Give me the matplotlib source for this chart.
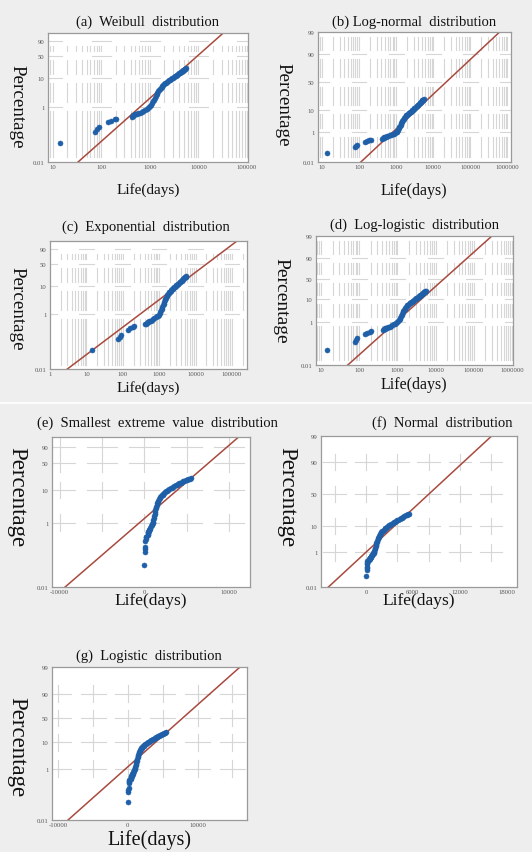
import math
import numpy as np
import matplotlib
matplotlib.use("Agg")
import matplotlib.pyplot as plt
from matplotlib.ticker import FixedLocator, FixedFormatter, NullLocator

plt.rcParams['font.family'] = ['Liberation Serif', 'DejaVu Serif']

# ---------------- data ----------------
life_days = [14, 76, 82, 88, 140, 160, 190, 205, 420, 440, 460, 480, 500, 540, 580,
             620, 680, 740, 800, 860, 920, 980, 1030, 1080, 1130, 1180, 1230, 1280,
             1330, 1380, 1430, 1480, 1540, 1600, 1670, 1740, 1820, 1900, 1980, 2070,
             2160, 2260, 2370, 2480, 2600, 2720, 2850, 2980, 3120, 3260, 3400, 3550,
             3700, 3850, 4000, 4150, 4300, 4450, 4600, 4750, 4900, 5050, 5200, 5350, 5500]
failure_pct = [0.05, 0.12, 0.15, 0.18, 0.27, 0.30, 0.35, 0.37, 0.42, 0.45, 0.48, 0.50,
               0.52, 0.55, 0.58, 0.61, 0.65, 0.70, 0.76, 0.82, 0.88, 0.96, 1.05, 1.18,
               1.35, 1.55, 1.8, 2.1, 2.4, 2.8, 3.1, 3.5, 3.9, 4.3, 4.7, 5.2, 5.6, 6.0,
               6.4, 6.8, 7.2, 7.6, 8.0, 8.5, 9.0, 9.5, 10.0, 10.5, 11.0, 11.6, 12.2,
               12.8, 13.4, 14.0, 14.7, 15.3, 16.0, 16.7, 17.4, 18.2, 19.0, 19.6, 20.2,
               20.8, 21.4]

# fitted-distribution parameters
weibull_shape, weibull_scale = 1.56, 12200.0
lognormal_mu10, lognormal_sigma10 = 4.35, 0.619
exponential_mean = 30000.0
loglogistic_mu10, loglogistic_s10 = 4.215, 0.273
sev_loc, sev_scale = 8240.0, 1910.0
normal_mu, normal_sigma = 8030.0, 3450.0
logistic_loc, logistic_scale = 7880.0, 1789.0

titles = ["(a)  Weibull  distribution", "(b) Log-normal  distribution",
          "(c)  Exponential  distribution", "(d)  Log-logistic  distribution",
          "(e)  Smallest  extreme  value  distribution", "(f)  Normal  distribution",
          "(g)  Logistic  distribution"]

pct_ticks_5 = [90, 50, 10, 1, 0.01]
pct_ticks_6 = [99, 90, 50, 10, 1, 0.01]
pct_labels_5 = ["90", "50", "10", "1", "0.01"]
pct_labels_6 = ["99", "90", "50", "10", "1", "0.01"]

x_ticks_a = [10, 100, 1000, 10000, 100000]
x_ticks_b = [10, 100, 1000, 10000, 100000, 1000000]
x_ticks_c = [1, 10, 100, 1000, 10000, 100000]
x_ticks_d = [10, 100, 1000, 10000, 100000, 1000000]
x_ticks_e = [-10000, 0, 10000]
x_ticks_f = [0, 6000, 12000, 18000]
x_ticks_g = [-10000, 0, 10000]

# ---------------- probability transforms ----------------
def _q(p):
    return np.clip(np.asarray(p, dtype=float) / 100.0, 1e-12, 1 - 1e-12)

def sev_fwd(p):
    q = _q(p)
    return np.log(-np.log1p(-q))

def sev_inv(w):
    return 100.0 * (-np.expm1(-np.exp(np.clip(w, -50, 5))))

def logit_fwd(p):
    q = _q(p)
    return np.log(q / (1 - q))

def logit_inv(l):
    return 100.0 / (1.0 + np.exp(-np.clip(l, -50, 50)))

_A = [-3.969683028665376e+01, 2.209460984245205e+02, -2.759285104469687e+02,
      1.383577518672690e+02, -3.066479806614716e+01, 2.506628277459239e+00]
_B = [-5.447609879822406e+01, 1.615858368580409e+02, -1.556989798598866e+02,
      6.680131188771972e+01, -1.328068155288572e+01]
_C = [-7.784894002430293e-03, -3.223964580411365e-01, -2.400758277161838e+00,
      -2.549732539343734e+00, 4.374664141464968e+00, 2.938163982698783e+00]
_D = [7.784695709041462e-03, 3.224671290700398e-01, 2.445134137142996e+00,
      3.754408145901237e+00]

def _ppf_scalar(p):
    plow = 0.02425
    if p < plow:
        q = math.sqrt(-2 * math.log(p))
        return (((((_C[0]*q+_C[1])*q+_C[2])*q+_C[3])*q+_C[4])*q+_C[5]) / \
               ((((_D[0]*q+_D[1])*q+_D[2])*q+_D[3])*q+1)
    if p > 1 - plow:
        q = math.sqrt(-2 * math.log(1 - p))
        return -(((((_C[0]*q+_C[1])*q+_C[2])*q+_C[3])*q+_C[4])*q+_C[5]) / \
               ((((_D[0]*q+_D[1])*q+_D[2])*q+_D[3])*q+1)
    q = p - 0.5
    r = q * q
    return (((((_A[0]*r+_A[1])*r+_A[2])*r+_A[3])*r+_A[4])*r+_A[5])*q / \
           (((((_B[0]*r+_B[1])*r+_B[2])*r+_B[3])*r+_B[4])*r+1)

_ppf_vec = np.vectorize(_ppf_scalar, otypes=[float])
_erf_vec = np.vectorize(math.erf, otypes=[float])

def norm_fwd(p):
    return _ppf_vec(_q(p))

def norm_inv(z):
    return 100.0 * 0.5 * (1 + _erf_vec(np.asarray(z, dtype=float) / math.sqrt(2)))

def phi_pct(z):
    return norm_inv(z)

# fitted CDFs (percent)
def cdf_weibull(x):
    return 100 * (1 - np.exp(-(x / weibull_scale) ** weibull_shape))

def cdf_lognormal(x):
    return phi_pct((np.log10(x) - lognormal_mu10) / lognormal_sigma10)

def cdf_exponential(x):
    return 100 * (1 - np.exp(-x / exponential_mean))

def cdf_loglogistic(x):
    return 100 / (1 + np.exp(-(np.log10(x) - loglogistic_mu10) / loglogistic_s10))

def cdf_sev(x):
    return 100 * (1 - np.exp(-np.exp((x - sev_loc) / sev_scale)))

def cdf_normal(x):
    return phi_pct((x - normal_mu) / normal_sigma)

def cdf_logistic(x):
    return 100 / (1 + np.exp(-(x - logistic_loc) / logistic_scale))

# ---------------- figure ----------------
W, H = 532, 853
fig = plt.figure(figsize=(W / 100, H / 100), dpi=100)
fig.patch.set_facecolor("#eeeeee")

def rect(l, r, t, b):
    return [l / W, 1 - b / H, (r - l) / W, (b - t) / H]

def ftext(x, y, s, **kw):
    fig.text(x / W, 1 - y / H, s, ha="center", va="center", **kw)

GRID = "#d6d6d6"
PT = "#1f5fa8"
LN = "#a84a3e"

panels = [
    dict(r=(48, 248, 34, 163), log=True, xlim=(8, 1.05e5), xt=x_ticks_a, yt=(pct_ticks_5, pct_labels_5),
         f=(sev_fwd, sev_inv), cdf=cdf_weibull, title=(148, 22, 10.5), xl=(148, 190, 11), yl=(17, 107, 13.7)),
    dict(r=(318, 511, 33, 163), log=True, xlim=(7.8, 1.25e6), xt=x_ticks_b, yt=(pct_ticks_6, pct_labels_6),
         f=(norm_fwd, norm_inv), cdf=cdf_lognormal, title=(414, 22, 10.5), xl=(414, 191, 11.5), yl=(283, 105, 13.7)),
    dict(r=(50, 247, 242, 370), log=True, xlim=(1, 2.6e5), xt=x_ticks_c, yt=(pct_ticks_5, pct_labels_5),
         f=(sev_fwd, sev_inv), cdf=cdf_exponential, title=(146, 227, 10.5), xl=(148, 388, 11), yl=(17, 309, 13.7)),
    dict(r=(316, 513, 237, 366), log=True, xlim=(7.4, 1.05e6), xt=x_ticks_d, yt=(pct_ticks_6, pct_labels_6),
         f=(logit_fwd, logit_inv), cdf=cdf_loglogistic, title=(415, 225, 10.5), xl=(414, 385, 11.5), yl=(281, 301, 14)),
    dict(r=(52, 250, 438, 588), log=False, xlim=(-10900, 12500), xt=x_ticks_e, yt=(pct_ticks_5, pct_labels_5),
         gx=[-10000, -5000, 0, 5000, 10000],
         f=(sev_fwd, sev_inv), cdf=cdf_sev, title=(157, 423, 10.5), xl=(151, 601, 12.5), yl=(17, 497, 16.5)),
    dict(r=(321, 517, 437, 588), log=False, xlim=(-5750, 19300), xt=x_ticks_f, yt=(pct_ticks_6, pct_labels_6),
         gx=[-4000, 0, 4000, 8000, 12000, 16000],
         f=(norm_fwd, norm_inv), cdf=cdf_normal, title=(442, 423, 10.5), xl=(419, 601, 12.5), yl=(287, 497, 16.5)),
    dict(r=(52, 247, 668, 821), log=False, xlim=(-10900, 17100), xt=x_ticks_g, yt=(pct_ticks_6, pct_labels_6),
         gx=[-10000, -5000, 0, 5000, 10000, 15000],
         f=(logit_fwd, logit_inv), cdf=cdf_logistic, title=(149, 656, 10.5), xl=(149, 840, 14.5), yl=(17, 747, 16.5)),
]

grid_levels = [90, 50, 10, 1]

def frac(ax, x, y):
    return ax.transAxes.inverted().transform(ax.transData.transform((x, y)))

for i, pnl in enumerate(panels):
    ax = fig.add_axes(rect(*pnl["r"]))
    ax.set_facecolor("white")
    if pnl["log"]:
        ax.set_xscale("log")
    ax.set_yscale("function", functions=pnl["f"])
    ax.set_xlim(*pnl["xlim"])
    ax.set_ylim(0.01, 99)
    for s in ax.spines.values():
        s.set_color("#9a9a9a")
        s.set_linewidth(0.9)

    # ticks
    ax.xaxis.set_major_locator(FixedLocator(pnl["xt"]))
    ax.xaxis.set_major_formatter(FixedFormatter([str(v) for v in pnl["xt"]]))
    ax.xaxis.set_minor_locator(NullLocator())
    ax.yaxis.set_major_locator(FixedLocator(pnl["yt"][0]))
    ax.yaxis.set_major_formatter(FixedFormatter(pnl["yt"][1]))
    ax.yaxis.set_minor_locator(NullLocator())
    ax.tick_params(length=0, labelsize=4.8, labelcolor="#555555")
    ax.tick_params(axis="x", pad=1.2)
    ax.tick_params(axis="y", pad=2.5)

    # grid (broken, Minitab-like)
    xlo, xhi = pnl["xlim"]
    x_ref = xlo
    lev_f = [frac(ax, x_ref, lv)[1] for lv in grid_levels]
    if pnl["log"]:
        bounds = sorted([0.0, 1.0] + [v for v in lev_f if 0 < v < 1])
        d0, d1 = int(math.floor(math.log10(xlo))), int(math.ceil(math.log10(xhi)))
        for d in range(d0, d1 + 1):
            for k in range(1, 10):
                xv = k * 10.0 ** d
                if not (xlo < xv < xhi):
                    continue
                xf = frac(ax, xv, 50)[0]
                for y0, y1 in zip(bounds[:-1], bounds[1:]):
                    g = 0.035
                    if y1 - y0 > 2 * g + 0.01:
                        ax.plot([xf, xf], [y0 + g, y1 - g], transform=ax.transAxes,
                                color=GRID, lw=0.8, zorder=0.5)
            dv = 10.0 ** d
            for lv, yf in zip(grid_levels, lev_f):
                xa = frac(ax, dv * 10 ** -0.2, lv)[0]
                xb = frac(ax, dv * 10 ** 0.2, lv)[0]
                ax.plot([xa, xb], [yf, yf], transform=ax.transAxes, color=GRID,
                        lw=0.8, zorder=0.5, clip_on=True)
    else:
        gxf = [frac(ax, gx, 50)[0] for gx in pnl["gx"]]
        sp = gxf[1] - gxf[0]
        for xf in gxf:
            for yf in lev_f:
                ax.plot([xf - 0.36 * sp, xf + 0.36 * sp], [yf, yf], transform=ax.transAxes,
                        color=GRID, lw=0.8, zorder=0.5)
                ax.plot([xf, xf], [yf - 0.055, yf + 0.055], transform=ax.transAxes,
                        color=GRID, lw=0.8, zorder=0.5)

    # fitted line
    if pnl["log"]:
        xs = np.logspace(math.log10(xlo), math.log10(xhi), 600)
    else:
        xs = np.linspace(xlo, xhi, 600)
    ax.plot(xs, pnl["cdf"](xs), color=LN, lw=1.1, zorder=2)

    # data points
    ax.plot(life_days, failure_pct, linestyle="none", marker="o", ms=3.6,
            mfc=PT, mec=PT, mew=0.4, zorder=3)

    tx, ty, ts = pnl["title"]
    ftext(tx, ty, titles[i], fontsize=ts, color="#111111")
    lx, ly, ls = pnl["xl"]
    ftext(lx, ly, "Life(days)", fontsize=ls, color="#111111")
    px, py, ps = pnl["yl"]
    ftext(px, py, "Percentage", fontsize=ps, rotation=270, color="#111111")

# light separator between the upper block and the lower block
fig.add_artist(plt.Line2D([0, 1], [1 - 404 / H, 1 - 404 / H], color="white", lw=1.2,
                          transform=fig.transFigure))

fig.savefig("out.png", dpi=100, facecolor=fig.get_facecolor())
